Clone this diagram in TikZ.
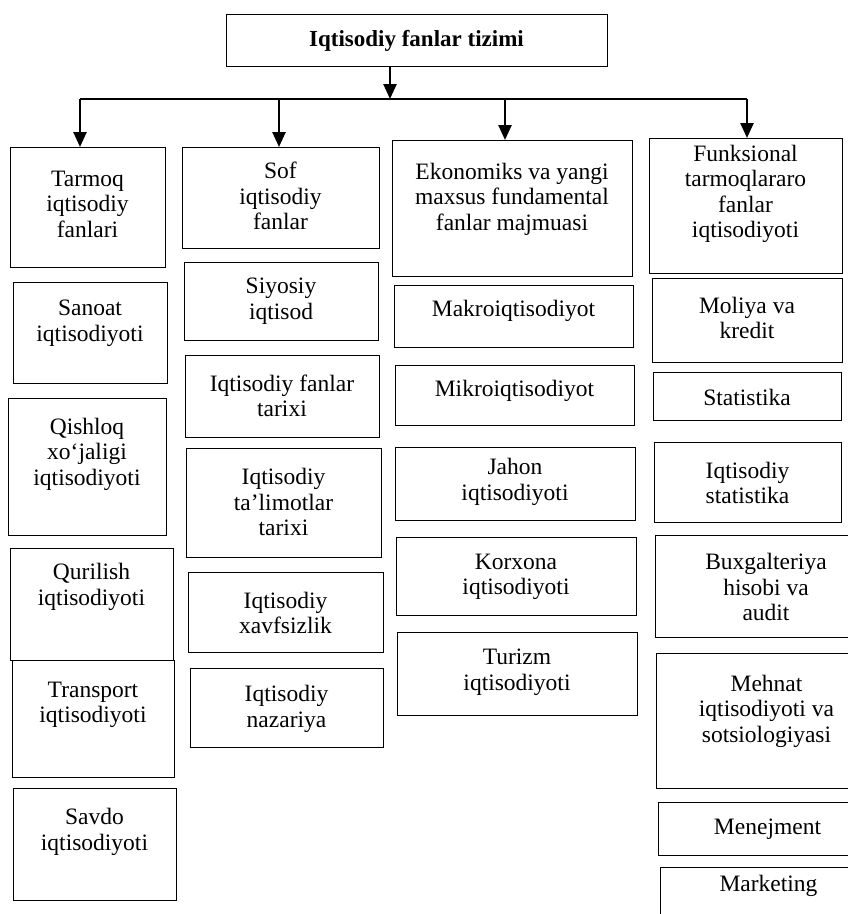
\documentclass[tikz,border=0pt]{standalone}
\usepackage{fontspec}
\setmainfont{Liberation Serif}
\usetikzlibrary{arrows.meta}
\tikzset{
  box/.style={draw, line width=1pt, inner sep=0pt, anchor=north west},
  txt/.style={align=center, inner sep=0pt, font=\fontsize{23.5}{25.5}\selectfont},
  ttl/.style={align=center, inner sep=0pt, font=\fontsize{23}{26}\selectfont\bfseries},
  busline/.style={line width=2.5pt},
  arr/.style={line width=2.5pt, -{Triangle[length=15pt,width=13pt]}}
}
\newcommand{\mybox}[7]{%
  \node[box, minimum width={#4-#2}, minimum height={#5-#3}] (#1) at (#2,#3) {};
  \node[txt] (#1t) at ({(#2+#4)/2},#6) {#7};
}
\begin{document}
\begin{tikzpicture}[x=1pt,y=-1pt]
\useasboundingbox (0,0) rectangle (847,914);
% title
\node[box, minimum width=381, minimum height=52] (t) at (226,14) {};
\node[ttl] (tt) at (416.5,41) {Iqtisodiy fanlar tizimi};
% column 1
\mybox{a1}{10}{147}{165}{267}{204}{Tarmoq\\iqtisodiy\\fanlari}
\mybox{a2}{13}{282}{167}{383}{323}{Sanoat\\iqtisodiyoti}
\mybox{a3}{8}{398}{166}{535}{454}{Qishloq\\xo‘jaligi\\iqtisodiyoti}
\mybox{a4}{10}{548}{173}{660}{587}{Qurilish\\iqtisodiyoti}
\mybox{a5}{12}{660}{174}{777}{705}{Transport\\iqtisodiyoti}
\mybox{a6}{13}{788}{176}{900}{832}{Savdo\\iqtisodiyoti}
% column 2
\mybox{b1}{182}{147}{379}{248}{196}{Sof\\iqtisodiy\\fanlar}
\mybox{b2}{184}{262}{378}{340}{301}{Siyosiy\\iqtisod}
\mybox{b3}{185}{355}{379}{437}{396}{Iqtisodiy fanlar\\tarixi}
\mybox{b4}{186}{448}{381}{557}{502}{Iqtisodiy\\ta’limotlar\\tarixi}
\mybox{b5}{188}{572}{383}{652}{613}{Iqtisodiy\\xavfsizlik}
\mybox{b6}{190}{668}{383}{747}{709}{Iqtisodiy\\nazariya}
% column 3
\mybox{c1}{392}{140}{632}{276}{199}{Ekonomiks va yangi\\maxsus fundamental\\fanlar majmuasi}
\mybox{c2}{394}{285}{633}{347}{311}{Makroiqtisodiyot}
\mybox{c3}{395}{365}{634}{425}{391}{Mikroiqtisodiyot}
\mybox{c4}{395}{447}{635}{520}{482}{Jahon\\iqtisodiyoti}
\mybox{c5}{396}{537}{636}{615}{577}{Korxona\\iqtisodiyoti}
\mybox{c6}{397}{632}{637}{715}{672}{Turizm\\iqtisodiyoti}
% column 4
\mybox{d1}{649}{138}{842}{273}{194}{Funksional\\tarmoqlararo\\fanlar\\iqtisodiyoti}
\mybox{d2}{652}{278}{842}{362}{318}{Moliya va\\kredit}
\mybox{d3}{653}{372}{841}{420}{397}{Statistika}
\mybox{d4}{654}{442}{841}{522}{483}{Iqtisodiy\\statistika}
\mybox{d5}{655}{535}{877}{637}{587}{Buxgalteriya\\hisobi va\\audit}
\mybox{d6}{656}{653}{877}{788}{711}{Mehnat\\iqtisodiyoti va\\sotsiologiyasi}
\mybox{d7}{658}{802}{877}{855}{829}{Menejment}
\mybox{d8}{660}{867}{877}{930}{886}{Marketing}
% connectors
\coordinate (bL) at (80,99);
\coordinate (bM) at (390,99);
\coordinate (bA) at (279,99);
\coordinate (bB) at (505,99);
\coordinate (bR) at (747,99);
\draw[busline] (bL) -- (bR);
\draw[arr] (bM |- t.south) -- (bM);
\draw[arr] (bL) -- (bL |- a1.north);
\draw[arr] (bA) -- (bA |- b1.north);
\draw[arr] (bB) -- (bB |- c1.north);
\draw[arr] (bR) -- (bR |- d1.north);
\end{tikzpicture}
\end{document}
